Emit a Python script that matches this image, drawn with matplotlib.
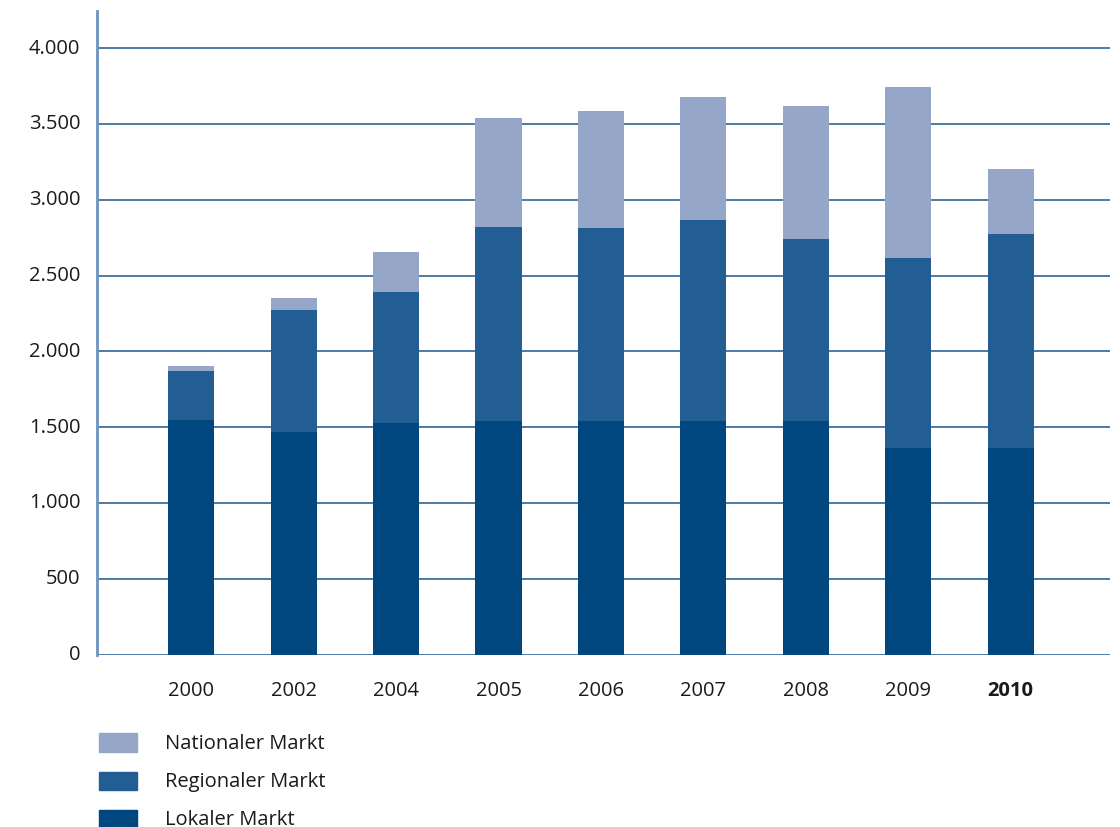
import matplotlib.pyplot as plt
from matplotlib.patches import Rectangle
from matplotlib.transforms import ScaledTranslation
import numpy as np

plt.rcParams['font.family'] = ['Open Sans', 'DejaVu Sans']

years = ['2000', '2002', '2004', '2005', '2006', '2007', '2008', '2009', '2010']
lokal = [1545, 1465, 1525, 1540, 1540, 1540, 1540, 1365, 1365]
regional_top = [1868, 2272, 2390, 2818, 2812, 2865, 2740, 2615, 2775]
national_top = [1900, 2350, 2655, 3540, 3585, 3677, 3618, 3743, 3202]

regional = [r - l for r, l in zip(regional_top, lokal)]
national = [n - r for n, r in zip(national_top, regional_top)]

names = ['Nationaler Markt', 'Regionaler Markt', 'Lokaler Markt']
colors = ['#95a6c8', '#225e93', '#00467f']

fig = plt.figure(figsize=(11.2, 8.28), dpi=100)
ax = fig.add_axes([0.0866, 0.2083, 0.9045, 0.7772])

x = np.arange(len(years))
w = 0.45
ax.bar(x, lokal, w, color=colors[2], zorder=3)
ax.bar(x, regional, w, bottom=lokal, color=colors[1], zorder=3)
ax.bar(x, national, w, bottom=regional_top, color=colors[0], zorder=3)

ax.set_xlim(-0.92, 8.97)
ax.set_ylim(0, 4245)
yt = np.arange(0, 4001, 500)
ax.set_yticks(yt)
ax.set_yticklabels(['{:,}'.format(v).replace(',', '.') for v in yt])
for v in yt:
    ax.axhline(v, color='#2f6398', lw=1.2, zorder=1)

ax.set_xticks(x)
ax.set_xticklabels(years)
ax.get_xticklabels()[-1].set_fontweight('bold')
ax.tick_params(axis='both', length=0, labelsize=14.5, colors='#1a1a1a')
ax.tick_params(axis='y', pad=12)
ax.tick_params(axis='x', pad=18)
shift = ScaledTranslation(0, 3 / 100, fig.dpi_scale_trans)
for lab in ax.get_yticklabels():
    lab.set_transform(lab.get_transform() + shift)

for s in ['top', 'right', 'bottom']:
    ax.spines[s].set_visible(False)
ax.spines['left'].set_color('#6a93bd')
ax.spines['left'].set_linewidth(2)

# legend
ys = [0.090, 0.044, -0.002]
for name, c, yy in zip(names, colors, ys):
    fig.add_artist(Rectangle((0.0884, yy + 0.001), 0.034, 0.022, color=c,
                             transform=fig.transFigure))
    fig.text(0.147, yy + 0.012, name, fontsize=14.5, va='center', color='#1a1a1a')

fig.savefig('out.png', dpi=100)
